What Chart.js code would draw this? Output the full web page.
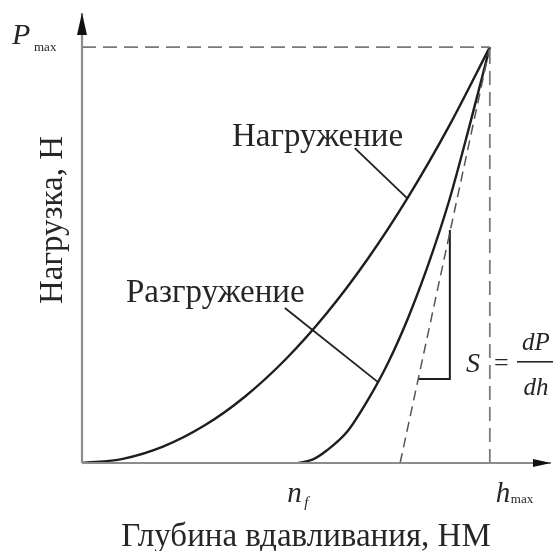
<!DOCTYPE html>
<html>
<head>
<meta charset="utf-8">
<script src="https://cdn.jsdelivr.net/npm/chart.js@4/dist/chart.umd.min.js"></script>
<style>
  html, body { margin: 0; padding: 0; background: #fff; }
  canvas { display: block; }
</style>
</head>
<body>
<canvas id="chart" width="553" height="551"></canvas>
<script>
// values (h and P normalised to h_max and P_max)
const loadH = [0, 0.1, 0.2, 0.3, 0.4, 0.5, 0.6, 0.7, 0.8, 0.9, 1.0];
const loadP = [0, 0.01, 0.04, 0.09, 0.16, 0.25, 0.36, 0.49, 0.64, 0.81, 1.0];

const unloadH = [0.53, 0.565, 0.6, 0.65, 0.7, 0.75, 0.8, 0.85, 0.9, 0.95, 1.0];
const unloadP = [0, 0.008, 0.03, 0.075, 0.15, 0.24, 0.35, 0.48, 0.63, 0.81, 1.0];

const nf = 0.53;
const hTangent = 0.78;     // where the tangent meets the h axis
const hMax = 1, pMax = 1;
const triH = [0.824, 0.902, 0.902];
const triP = [0.202, 0.202, 0.56];

const xLabel = 'Глубина вдавливания, НМ';
const yLabel = 'Нагрузка, Н';
const loadLabel = 'Нагружение';
const unloadLabel = 'Разгружение';

const serif = '"Liberation Serif", "DejaVu Serif", serif';

function pts(xs, ys) { return xs.map((x, i) => ({ x: x, y: ys[i] })); }

const ctx = document.getElementById('chart').getContext('2d');

const dashed = { borderColor: '#7a7a7a', borderWidth: 1.8, borderDash: [14, 7] };
const solid = { borderColor: '#1e1e1e', borderWidth: 2.4 };

const annotations = {
    id: 'annotations',
    afterDatasetsDraw(chart) {
        const c = chart.ctx;
        const xs = chart.scales.x, ys = chart.scales.y;
        const X = v => xs.getPixelForValue(v);
        const Y = v => ys.getPixelForValue(v);
        c.save();

        // axis arrows
        c.fillStyle = '#111';
        const ox = X(0), oy = Y(0);
        const top = chart.chartArea.top, right = chart.chartArea.right;
        c.beginPath();
        c.moveTo(ox, top);
        c.lineTo(ox - 5, top + 22);
        c.lineTo(ox + 5, top + 22);
        c.closePath();
        c.fill();
        c.beginPath();
        c.moveTo(right, oy);
        c.lineTo(right - 18, oy - 4);
        c.lineTo(right - 18, oy + 4);
        c.closePath();
        c.fill();

        c.fillStyle = '#262626';
        c.textBaseline = 'alphabetic';

        // P_max
        c.font = 'italic 30px ' + serif;
        c.textAlign = 'left';
        c.fillText('P', 12, Y(pMax) - 3);
        c.font = '13px ' + serif;
        c.fillText('max', 34, Y(pMax) + 4);

        // n_f and h_max
        c.font = 'italic 29px ' + serif;
        c.fillText('n', X(nf) - 11, 502);
        c.font = 'italic 15px ' + serif;
        c.fillText('f', X(nf) + 6, 507);
        c.font = 'italic 29px ' + serif;
        c.fillText('h', X(hMax) + 6, 502);
        c.font = '13px ' + serif;
        c.fillText('max', X(hMax) + 21, 503);

        // axis titles
        c.font = '33px ' + serif;
        c.textAlign = 'center';
        c.fillText(xLabel, 306, 546);
        c.save();
        c.translate(62, 220);
        c.rotate(-Math.PI / 2);
        c.fillText(yLabel, 0, 0);
        c.restore();

        // curve labels
        c.textAlign = 'left';
        c.fillText(loadLabel, 232, 146);
        c.fillText(unloadLabel, 126, 302);

        // S = dP/dh
        c.font = 'italic 28px ' + serif;
        c.fillText('S', 466, 372);
        c.font = '26px ' + serif;
        c.fillText('=', 494, 371);
        c.font = 'italic 25px ' + serif;
        c.textAlign = 'center';
        c.fillText('dP', 536, 350);
        c.fillText('dh', 536, 395);
        c.fillRect(517, 361, 36, 1.6);

        c.restore();
    }
};

new Chart(ctx, {
    type: 'scatter',
    data: {
        datasets: [
            // axes
            { data: [{ x: 0, y: 0 }, { x: 1.15, y: 0 }], borderColor: '#8c8c8c', borderWidth: 2.2 },
            { data: [{ x: 0, y: 0 }, { x: 0, y: 1.082 }], borderColor: '#8c8c8c', borderWidth: 2.2 },
            // guide lines
            Object.assign({ data: [{ x: 0, y: pMax }, { x: hMax, y: pMax }] }, dashed),
            Object.assign({ data: [{ x: hMax, y: 0 }, { x: hMax, y: pMax }] }, dashed),
            Object.assign({ data: [{ x: hTangent, y: 0 }, { x: hMax, y: pMax }] }, dashed, { borderColor: '#555', borderWidth: 1.5, borderDash: [10, 6] }),
            // curves
            Object.assign({ data: pts(loadH, loadP), cubicInterpolationMode: 'monotone' }, solid),
            Object.assign({ data: pts(unloadH, unloadP), cubicInterpolationMode: 'monotone' }, solid),
            // slope triangle
            Object.assign({ data: pts(triH, triP) }, solid, { borderWidth: 2 }),
            // leader lines
            Object.assign({ data: [{ x: 0.669, y: 0.757 }, { x: 0.797, y: 0.637 }] }, solid, { borderWidth: 1.8 }),
            Object.assign({ data: [{ x: 0.4975, y: 0.3726 }, { x: 0.725, y: 0.195 }] }, solid, { borderWidth: 1.8 })
        ].map(d => Object.assign({ showLine: true, pointRadius: 0, fill: false, clip: false }, d))
    },
    options: {
        responsive: false,
        animation: false,
        layout: { padding: { left: 82, right: 2, top: 13, bottom: 88 } },
        scales: {
            x: { type: 'linear', display: false, min: 0, max: 1.15 },
            y: { type: 'linear', display: false, min: 0, max: 1.082 }
        },
        plugins: {
            legend: { display: false },
            tooltip: { enabled: false }
        }
    },
    plugins: [annotations]
});
</script>
</body>
</html>
